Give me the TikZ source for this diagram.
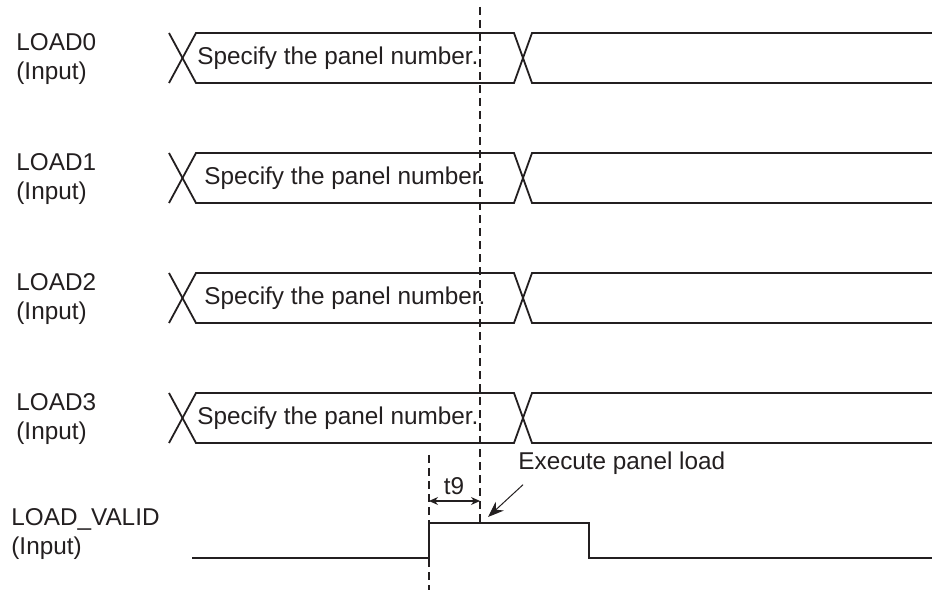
\documentclass[tikz,border=0pt]{standalone}
\usepackage{fontspec}
\setmainfont{Liberation Sans}
\usepackage{xcolor}
\definecolor{ink}{HTML}{231F20}
\usepackage{tikz}
\usetikzlibrary{arrows.meta}

\begin{document}
\begin{tikzpicture}[x=0.5bp,y=-0.5bp,>=Stealth,
  every node/.style={font=\fontsize{12.2}{14.5}\selectfont,text=ink,inner sep=0pt},
  sig/.style={draw=ink,line width=0.9bp,line join=miter},
  guide/.style={draw=ink,line width=0.8bp,dash pattern=on 4bp off 2.5bp}]
\useasboundingbox (0,0) rectangle (932,590);
% signal names
\node[anchor=west,align=left] (n0) at (16,59) {LOAD0\\(Input)};
\node[anchor=west,align=left] (n1) at (16,179) {LOAD1\\(Input)};
\node[anchor=west,align=left] (n2) at (16,299) {LOAD2\\(Input)};
\node[anchor=west,align=left] (n3) at (16,419) {LOAD3\\(Input)};
\node[anchor=west,align=left] (nv) at (11,534) {LOAD\_VALID\\(Input)};
% bus rows
\draw[sig] (169,33) -- (196,83) -- (514,83) -- (532,33) -- (932,33);
\draw[sig] (169,83) -- (196,33) -- (514,33) -- (532,83) -- (932,83);
\node[anchor=west] (s0) at (197,58) {Specify the panel number.};
\draw[sig] (169,153) -- (196,203) -- (514,203) -- (532,153) -- (932,153);
\draw[sig] (169,203) -- (196,153) -- (514,153) -- (532,203) -- (932,203);
\node[anchor=west] (s1) at (204,178) {Specify the panel number.};
\draw[sig] (169,273) -- (196,323) -- (514,323) -- (532,273) -- (932,273);
\draw[sig] (169,323) -- (196,273) -- (514,273) -- (532,323) -- (932,323);
\node[anchor=west] (s2) at (204,298) {Specify the panel number.};
\draw[sig] (169,393) -- (196,443) -- (514,443) -- (532,393) -- (932,393);
\draw[sig] (169,443) -- (196,393) -- (514,393) -- (532,443) -- (932,443);
\node[anchor=west] (s3) at (197,418) {Specify the panel number.};
% LOAD_VALID pulse
\coordinate (rise) at (429,523);
\coordinate (hit) at (488,517);
\draw[sig] (192,558) -- (429,558) -- (rise) -- (589,523) -- (589,558) -- (932,558);
% guides and timing
\draw[guide] (480,7) -- (480,523);
\draw[guide] (429,455) -- (429,590);
\coordinate (ta) at (429,501);
\coordinate (tb) at (480,501);
\draw[<->,ink,line width=0.6bp,>={Stealth[length=4.5bp,width=4bp]}] (ta) -- (tb);
\node (t9) at (454,486) {t9};
\node[anchor=west] (exec) at (518,463) {Execute panel load};
\draw[->,ink,line width=0.5bp,>={Stealth[length=8bp,width=6bp]}] ([shift={(5,10)}]exec.south west) -- (hit);
\end{tikzpicture}
\end{document}
